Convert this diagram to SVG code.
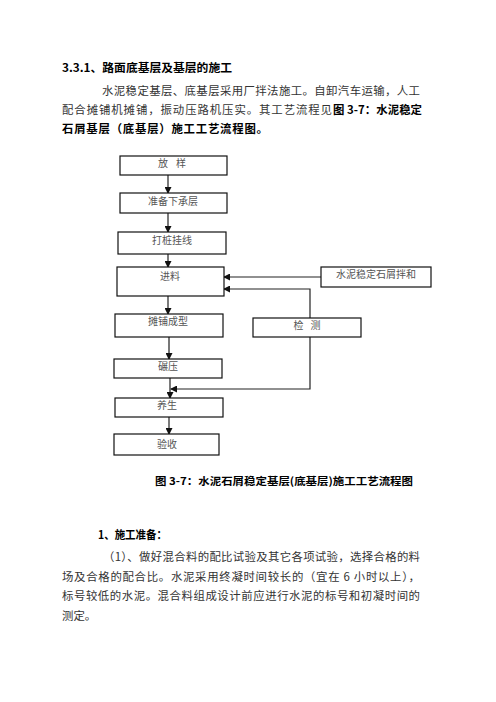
<svg xmlns="http://www.w3.org/2000/svg" width="496" height="702" viewBox="0 0 496 702">
<style>
.t{font-family:"Noto Sans CJK SC","Liberation Serif",serif;font-size:11.4px;fill:#333}
.b{font-family:"Noto Sans CJK SC","Liberation Sans",sans-serif;font-size:11.4px;font-weight:bold;fill:#000}
.box{fill:#fff;stroke:#111;stroke-width:1.2}
.bt{font-family:"Noto Sans CJK SC","Liberation Serif",serif;font-size:10px;fill:#555;text-anchor:middle}
.c{fill:none;stroke:#222;stroke-width:1.2}
</style>
<defs>
<marker id="ah" markerUnits="userSpaceOnUse" markerWidth="7" markerHeight="7" refX="6" refY="3.5" orient="auto">
<path d="M0,0 L7,3.5 L0,7 Z" fill="#111"/>
</marker>
</defs>
<rect width="496" height="702" fill="#fff"/>
<text class="b" x="62" y="72" textLength="170" lengthAdjust="spacingAndGlyphs">3.3.1、路面底基层及基层的施工</text>
<text class="t" x="102" y="95" textLength="318" lengthAdjust="spacing">水泥稳定基层、底基层采用厂拌法施工。自卸汽车运输，人工</text>
<text class="t" x="62" y="114" textLength="270" lengthAdjust="spacing">配合摊铺机摊铺，振动压路机压实。其工艺流程见</text>
<text class="b" x="333" y="114" textLength="89" lengthAdjust="spacing">图 3-7：水泥稳定</text>
<text class="b" x="62" y="133" textLength="206" lengthAdjust="spacing">石屑基层（底基层）施工工艺流程图。</text>

<g id="connectors">
<line class="c" x1="168" y1="175" x2="168" y2="193" marker-end="url(#ah)"/>
<line class="c" x1="168" y1="213" x2="168" y2="232" marker-end="url(#ah)"/>
<line class="c" x1="168" y1="254" x2="168" y2="267" marker-end="url(#ah)"/>
<line class="c" x1="168" y1="296" x2="168" y2="314" marker-end="url(#ah)"/>
<line class="c" x1="169" y1="337" x2="169" y2="359" marker-end="url(#ah)" style="stroke:#555;stroke-width:1.6"/>
<line class="c" x1="170" y1="378" x2="170" y2="398" marker-end="url(#ah)"/>
<line class="c" x1="169" y1="417" x2="169" y2="434" marker-end="url(#ah)"/>
<line class="c" x1="321" y1="277" x2="224" y2="277" marker-end="url(#ah)"/>
<polyline class="c" points="310,318 310,289 224,289" marker-end="url(#ah)"/>
<polyline class="c" points="310,337 310,389 171,389" marker-end="url(#ah)"/>
</g>

<g id="n1"><rect class="box" x="120" y="156" width="107" height="19"/><text class="bt" x="172" y="167">放<tspan dx="8">样</tspan></text></g>
<g id="n2"><rect class="box" x="120" y="193" width="107" height="20"/><text class="bt" x="173" y="205">准备下承层</text></g>
<g id="n3"><rect class="box" x="118" y="232" width="108" height="22"/><text class="bt" x="172" y="244">打桩挂线</text></g>
<g id="n4"><rect class="box" x="117" y="267" width="107" height="29"/><text class="bt" x="170" y="280">进料</text></g>
<g id="n5"><rect class="box" x="321" y="267" width="110" height="20"/><text class="bt" x="376" y="278">水泥稳定石屑拌和</text></g>
<g id="n6"><rect class="box" x="115" y="314" width="108" height="23"/><text class="bt" x="168" y="325">摊铺成型</text></g>
<g id="n7"><rect class="box" x="253" y="318" width="108" height="19"/><text class="bt" x="307" y="329">检<tspan dx="7">测</tspan></text></g>
<g id="n8"><rect class="box" x="114" y="359" width="108" height="19"/><text class="bt" x="168" y="370">碾压</text></g>
<g id="n9"><rect class="box" x="115" y="398" width="108" height="19"/><text class="bt" x="167" y="409">养生</text></g>
<g id="n10"><rect class="box" x="114" y="434" width="105" height="21"/><text class="bt" x="167" y="448">验收</text></g>

<text class="b" x="155" y="485" textLength="258" lengthAdjust="spacingAndGlyphs" style="font-size:10.5px">图 3-7：水泥石屑稳定基层(底基层)施工工艺流程图</text>

<text class="b" x="98" y="539" textLength="69" lengthAdjust="spacingAndGlyphs">1、施工准备：</text>
<text class="t" x="103" y="561" textLength="317" lengthAdjust="spacing">（1）、做好混合料的配比试验及其它各项试验，选择合格的料</text>
<text class="t" x="62" y="581" textLength="358" lengthAdjust="spacing">场及合格的配合比。水泥采用终凝时间较长的（宜在 6 小时以上），</text>
<text class="t" x="62" y="600" textLength="358" lengthAdjust="spacing">标号较低的水泥。混合料组成设计前应进行水泥的标号和初凝时间的</text>
<text class="t" x="62" y="620">测定。</text>
</svg>
